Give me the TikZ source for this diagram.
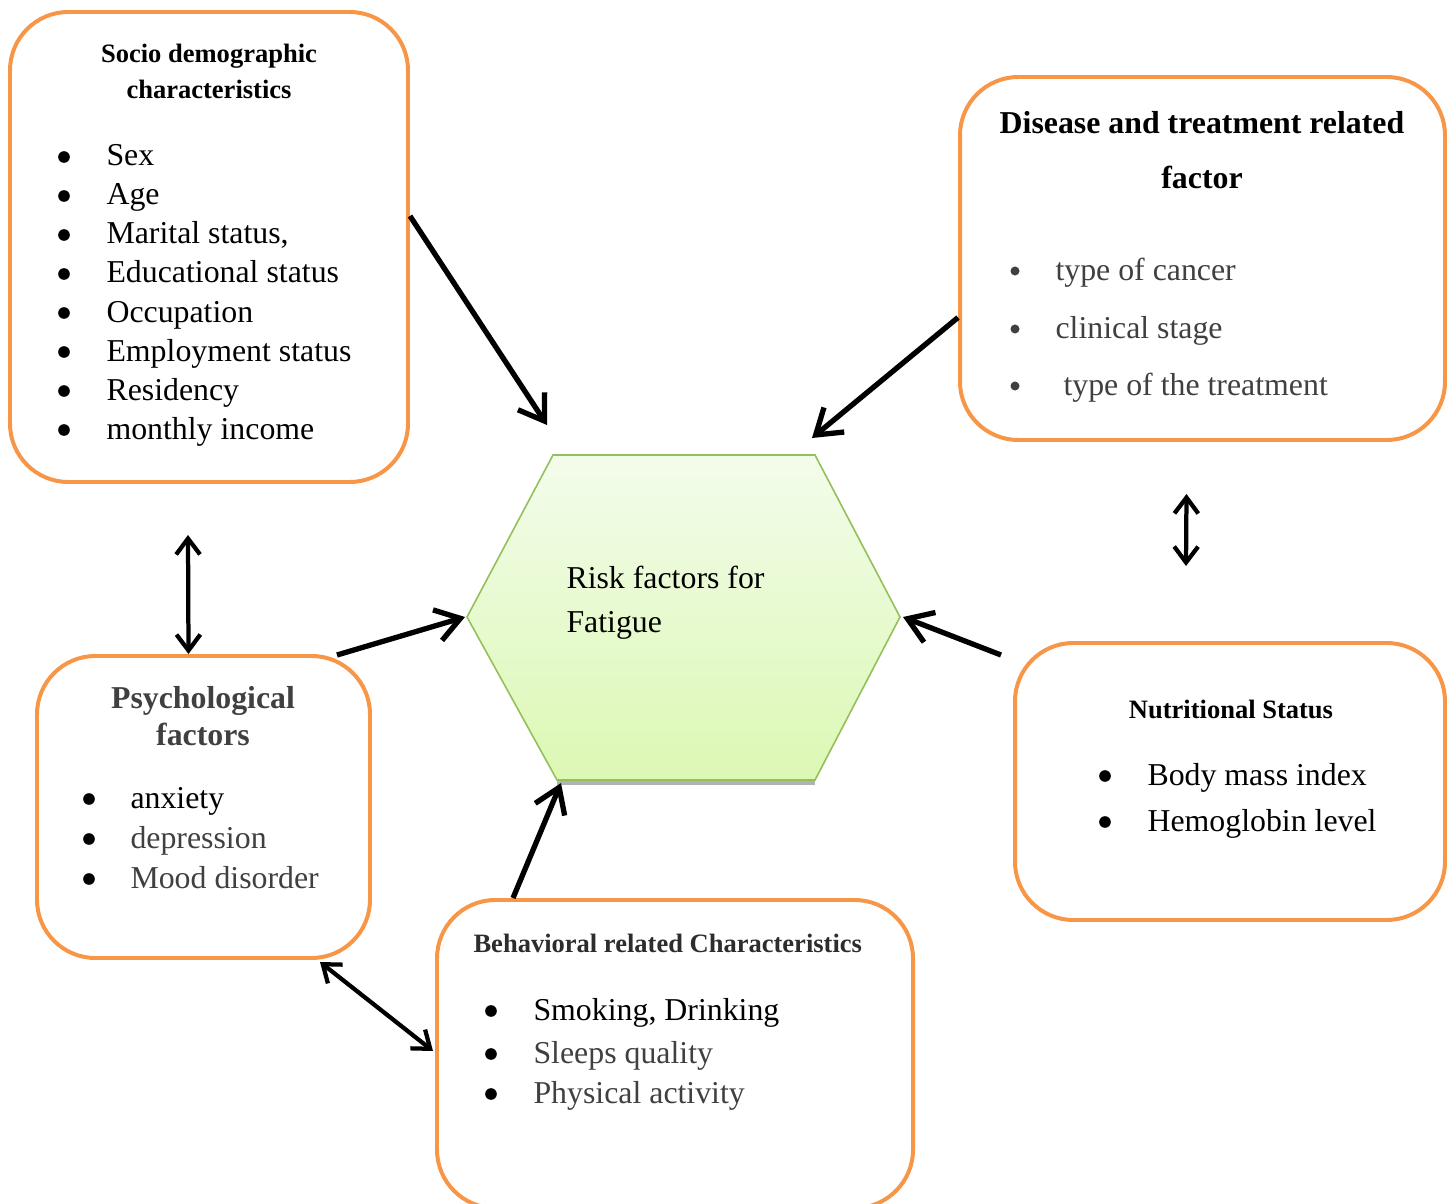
\documentclass[tikz,border=0pt]{standalone}
\usepackage{fontspec}
\setmainfont{Liberation Serif}
\usetikzlibrary{arrows.meta,calc,fit}

\definecolor{boxorange}{HTML}{F79646}
\definecolor{textgray}{HTML}{404040}
\definecolor{hextop}{HTML}{F3FCEB}
\definecolor{hexbot}{HTML}{DCF8B4}
\definecolor{hexline}{HTML}{93C05A}

\tikzset{
  box/.style={draw=boxorange, line width=1.5pt, rounded corners=22pt, inner sep=0pt},
  head/.style={font=\bfseries\fontsize{10}{13.6}\selectfont, align=center, inner sep=0pt},
  item/.style={anchor=base west, inner sep=0pt, font=\fontsize{12}{14}\selectfont},
  bigarrow/.style={-{Straight Barb[length=9pt,width=12pt]}, line width=2pt},
  dblarrow/.style={{Straight Barb[length=6pt,width=9pt]}-{Straight Barb[length=6pt,width=9pt]}, line width=1.6pt}
}

\begin{document}
\begin{tikzpicture}[x=0.377pt,y=-0.377pt]
        \useasboundingbox (0,0) rectangle (1447,1204);

        % Sechseck
        \coordinate (hexTL) at (553,455);
        \coordinate (hexTR) at (815,455);
        \coordinate (hexR) at (900,617);
        \coordinate (hexBR) at (815,780);
        \coordinate (hexBL) at (557,780);
        \coordinate (hexL) at (467,617);
        \draw[gray!60, line width=1.2pt] ($(hexBL)+(0,3)$) -- ($(hexBR)+(0,3)$); % Schatten
        \shade[top color=hextop, bottom color=hexbot, draw=hexline, line width=0.6pt]
            (hexTL) -- (hexTR) -- (hexR) -- (hexBR) -- (hexBL) -- (hexL) -- cycle;
        \node[anchor=west, align=left, inner sep=0pt, font=\fontsize{12}{16.6}\selectfont] (risk) at (566,603)
            {Risk factors for\\Fatigue};

        % Kaesten
        \node[box, fit={(10,12) (408,482)}] (socio) {};
        \node[box, fit={(960,77) (1445,440)}] (disease) {};
        \node[box, fit={(37,656) (370,958)}] (psych) {};
        \node[box, fit={(437,900) (913,1208)}] (behav) {};
        \node[box, fit={(1015,643) (1445,920)}] (nutri) {};

        % Ueberschriften
        \node[head] (sochead) at (209,71) {Socio demographic\\characteristics};
        \node[head, font=\bfseries\fontsize{12}{20.7}\selectfont] (dishead) at (1202,150) {Disease and treatment related\\factor};
        \node[head, font=\bfseries\fontsize{12}{14}\selectfont, text=textgray] (psyhead) at (203,716) {Psychological\\factors};
        \node[head, anchor=base west, text=textgray!70!black] (behhead) at (473,952) {Behavioral related Characteristics};
        \node[head, anchor=base] (nuthead) at (1231,718) {Nutritional Status};

        % Listen
        \foreach \t [count=\i] in {Sex, Age, {Marital status,}, Educational status, Occupation, Employment status, Residency, monthly income} {
            \node[item] (soc\i) at (106,{166+39*(\i-1)}) {\t};
            \fill (64,{157+39*(\i-1)}) circle (2.2pt); % Punkt
        }
        \foreach \t/\xx/\yy [count=\i] in {type of cancer/1055/280, clinical stage/1055/338, type of the treatment/1063/395} {
            \node[item, text=textgray] (dis\i) at (\xx,\yy) {\t};
            \fill[textgray] (1015,\yy-9) circle (1.7pt);
        }
        \foreach \t/\c [count=\i] in {anxiety/black, depression/textgray, Mood disorder/textgray} {
            \node[item, text=\c] (psy\i) at (130,{808+40*(\i-1)}) {\t};
            \fill (89,{799+40*(\i-1)}) circle (2.2pt);
        }
        \foreach \t/\c/\yy [count=\i] in {{Smoking, Drinking}/black/1020, Sleeps quality/textgray/1063, Physical activity/textgray/1103} {
            \node[item, text=\c] (beh\i) at (533,\yy) {\t};
            \fill (491,\yy-9) circle (2.2pt);
        }
        \foreach \t [count=\i] in {Body mass index, Hemoglobin level} {
            \node[item] (nut\i) at (1147,{785+46*(\i-1)}) {\t};
            \fill (1105,{776+46*(\i-1)}) circle (2.2pt);
        }

        % Pfeile zum Sechseck
        \draw[bigarrow] ($(socio.north east)+(0,206)$) -- ($(hexTL)+(-6,-30)$);
        \draw[bigarrow] ($(disease.west)+(0,59)$) -- ($(hexTR)+(-3,-17)$);
        \draw[bigarrow] ($(psych.north east)+(-35,1)$) -- ($(hexL)+(-2,0)$);
        \draw[bigarrow] ($(nutri.north west)+(-12,14)$) -- ($(hexR)+(3,0)$);
        \draw[bigarrow] ($(behav.north west)+(78,0)$) -- ($(hexBL)+(4,3)$);

        % Doppelpfeile
        \draw[dblarrow] ($(socio.south)+(-21,51)$) -- ($(psych.north)+(-15,0)$);
        \draw[dblarrow] ($(disease.south)+(-16,52)$) -- ($(nutri.north)+(-44,-75)$);
        \draw[dblarrow] ($(psych.south east)+(-52,2)$) -- ($(behav.west)+(-2,-3)$);
    \end{tikzpicture}
\end{document}
